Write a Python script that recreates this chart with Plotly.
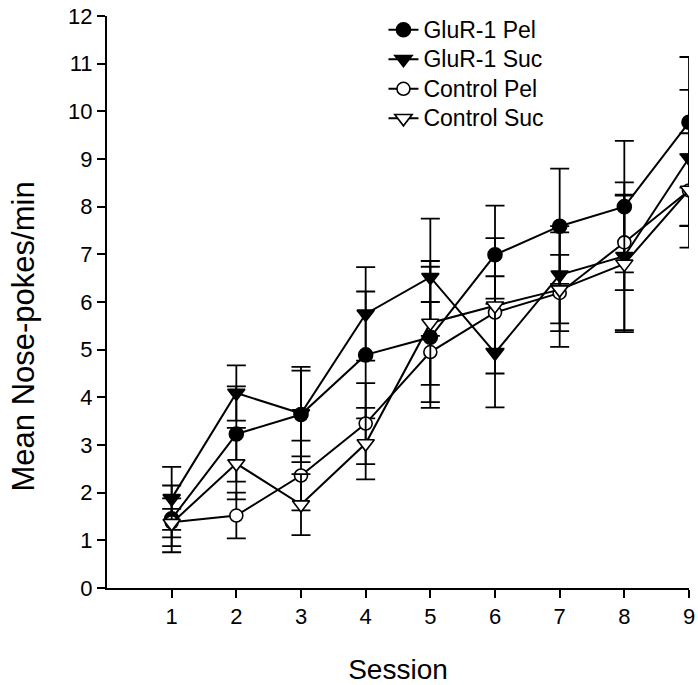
import plotly.graph_objects as go

sessions = [1, 2, 3, 4, 5, 6, 7, 8, 9]

glur_pel = [1.45, 3.23, 3.64, 4.89, 5.26, 6.99, 7.59, 8.00, 9.77]
glur_pel_err = [0.70, 1.00, 1.00, 1.33, 1.48, 1.03, 1.21, 1.38, 1.37]

glur_suc = [1.88, 4.09, 3.66, 5.75, 6.52, 4.93, 6.57, 6.96, 9.02]
glur_suc_err = [0.66, 0.58, 0.90, 0.98, 1.23, 1.14, 1.02, 1.55, 1.43]

ctrl_pel = [1.38, 1.52, 2.36, 3.45, 4.95, 5.78, 6.19, 7.25, 8.34]
ctrl_pel_err = [0.50, 0.48, 0.73, 0.85, 1.05, 0.76, 0.80, 1.00, 1.20]

ctrl_suc = [1.36, 2.61, 1.75, 3.03, 5.56, 5.92, 6.26, 6.80, 8.35]
ctrl_suc_err = [0.30, 0.75, 0.64, 0.75, 1.30, 1.42, 1.20, 1.43, 0.75]

y_ticks = list(range(0, 13))
x_ticks = sessions

FONT = "Arial, 'Liberation Sans', sans-serif"

series = [
    ("GluR-1 Pel", glur_pel, glur_pel_err, "circle", "black", 14),
    ("GluR-1 Suc", glur_suc, glur_suc_err, "triangle-down", "black", 15),
    ("Control Pel", ctrl_pel, ctrl_pel_err, "circle", "white", 13),
    ("Control Suc", ctrl_suc, ctrl_suc_err, "triangle-down", "white", 15),
]

fig = go.Figure()
for name, vals, errs, sym, fill, size in series:
    fig.add_trace(go.Scatter(
        x=sessions, y=vals, mode="lines+markers",
        name='<span style="font-size:23px">' + name + '</span>',
        line=dict(color="black", width=2),
        marker=dict(symbol=sym, size=size, color=fill,
                    line=dict(color="black", width=1.6)),
        error_y=dict(type="data", array=errs, visible=True,
                     color="black", thickness=1.8, width=9.5),
    ))

fig.update_layout(
    width=698, height=685,
    margin=dict(l=107, r=9, t=16, b=97, autoexpand=False),
    paper_bgcolor="white", plot_bgcolor="white",
    font=dict(family=FONT, color="black"),
    showlegend=True,
    legend=dict(
        x=0.475, y=1.0105, xanchor="left", yanchor="top",
        font=dict(size=20.4, family=FONT, color="black"),
        bgcolor="rgba(0,0,0,0)", tracegroupgap=0,
    ),
    xaxis=dict(
        range=[0, 9], tickmode="array", tickvals=x_ticks,
        ticktext=[str(v) for v in x_ticks],
        showline=True, linecolor="black", linewidth=2,
        ticks="outside", ticklen=8, tickwidth=1.5, tickcolor="black",
        showgrid=False, zeroline=False,
        tickfont=dict(size=22, family=FONT),
        title=dict(text="Session", font=dict(size=28, family=FONT), standoff=33),
    ),
    yaxis=dict(
        range=[0, 12], tickmode="array", tickvals=y_ticks,
        ticktext=[str(v) for v in y_ticks],
        showline=True, linecolor="black", linewidth=2,
        ticks="outside", ticklen=8, tickwidth=1.5, tickcolor="black",
        showgrid=False, zeroline=False,
        tickfont=dict(size=22, family=FONT),
    ),
    annotations=[dict(
        text="Mean Nose-pokes/min", textangle=-90,
        xref="paper", yref="paper", x=-0.144, y=0.44,
        xanchor="center", yanchor="middle", showarrow=False,
        font=dict(size=31, family=FONT, color="black"),
    )],
)

fig.write_html("out.html")
